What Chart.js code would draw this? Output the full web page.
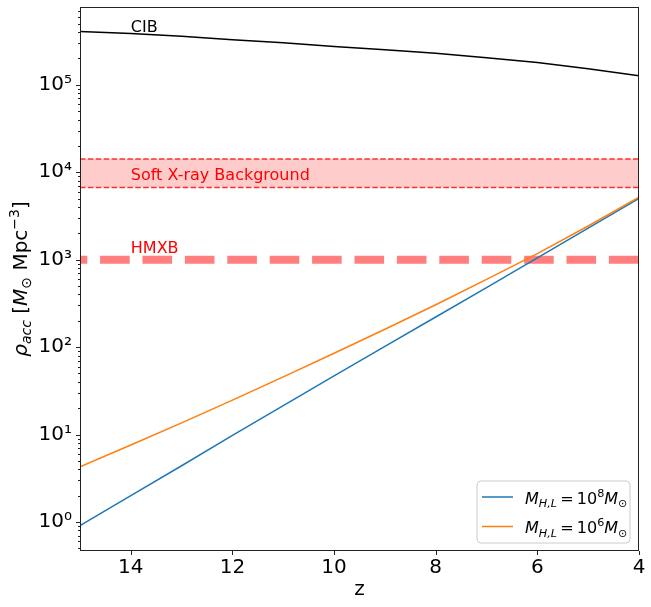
<!DOCTYPE html>
<html lang="en">
<head>
  <meta charset="UTF-8">
  <title>Accretion density vs redshift</title>
  <script src="https://cdn.jsdelivr.net/npm/chart.js@4.4.1/dist/chart.umd.min.js"></script>
  <style>
* {
  margin: 0;
  padding: 0;
  box-sizing: border-box;
}
body {
  background: #fff;
}
#chart {
  display: block;
}
  </style>
</head>
<body>
  <canvas id="chart" width="651" height="607"></canvas>
  <script>
    // data
    const redshift = [15, 14, 13, 12, 11, 10, 9, 8, 7, 6, 5, 4];
    const rhoCIB = [4.07e5, 3.85e5, 3.59e5, 3.27e5, 3.02e5, 2.75e5, 2.51e5, 2.29e5, 2.04e5, 1.80e5, 1.53e5, 1.27e5];
    const rhoM8 = [0.91, 2.0, 4.4, 9.8, 21.4, 46.8, 102, 221, 479, 1047, 2290, 5010];
    const rhoM6 = [4.27, 7.6, 13.6, 24.8, 45.7, 85, 160, 305, 596, 1175, 2430, 5180];
    const zEnds = [15, 4];
    const softXLow = 6700;
    const softXHigh = 14200;
    const hmxbLevel = 1000;

    const xTicks = [14, 12, 10, 8, 6, 4];
    const yMajorTicks = [0.1, 1, 10, 100, 1000, 10000, 100000];
    const yMinorFactors = [2, 3, 4, 5, 6, 7, 8, 9];
    const yMin = 0.466;
    const yMax = 7.76e5;

    const textLabels = [
      { text: 'CIB', z: 14, y: 4.0e5, color: '#000' },
      { text: 'Soft X-ray Background', z: 14, y: 8.2e3, color: '#ff0000' },
      { text: 'HMXB', z: 14, y: 1.2e3, color: '#ff0000' }
    ];

    const FONT = 'DejaVu Sans';
    const SUP = { '0': '\u2070', '1': '\u00b9', '2': '\u00b2', '3': '\u00b3', '4': '\u2074', '5': '\u2075', '-': '\u207b' };

    let pts = vals => redshift.map((z, i) => ({ x: z, y: vals[i] }));
    let flat = v => zEnds.map(z => ({ x: z, y: v }));

    let yTickValues = [];
    yMajorTicks.forEach(d => {
      [1].concat(yMinorFactors).forEach(m => {
        let v = m * d;
        if (v >= yMin && v <= yMax) yTickValues.push(v);
      });
    });
    let isMajor = v => yMajorTicks.some(d => Math.abs(v - d) / d < 1e-9);

    // mathtext-like drawing: segments can be italic, sub or sup
    function segFont(s, size) {
      let sz = (s.sub || s.sup) ? size * 0.7 : size;
      return (s.it ? 'italic ' : '') + sz + 'px "' + FONT + '"';
    }
    function richWidth(ctx, segs, size) {
      let w = 0;
      segs.forEach(s => { ctx.font = segFont(s, size); w += ctx.measureText(s.t).width; });
      return w;
    }
    function drawRich(ctx, segs, x, y, size, align) {
      let cx = align === 'center' ? x - richWidth(ctx, segs, size) / 2 : x;
      ctx.textBaseline = 'alphabetic';
      ctx.textAlign = 'left';
      segs.forEach(s => {
        ctx.font = segFont(s, size);
        let dy = s.sub ? size * 0.22 : (s.sup ? -size * 0.42 : 0);
        ctx.fillText(s.t, cx, y + dy);
        cx += ctx.measureText(s.t).width;
      });
    }

    const yTitle = [
      { t: '\u03c1', it: true }, { t: 'acc', it: true, sub: true },
      { t: ' [' }, { t: 'M', it: true }, { t: '\u2299', sub: true },
      { t: ' Mpc' }, { t: '\u22123', sup: true }, { t: ']' }
    ];
    const legendItems = [
      { dataset: 0, segs: [{ t: 'M', it: true }, { t: 'H,L', it: true, sub: true }, { t: '\u2009=\u200910' }, { t: '8', sup: true }, { t: 'M', it: true }, { t: '\u2299', sub: true }] },
      { dataset: 1, segs: [{ t: 'M', it: true }, { t: 'H,L', it: true, sub: true }, { t: '\u2009=\u200910' }, { t: '6', sup: true }, { t: 'M', it: true }, { t: '\u2299', sub: true }] }
    ];

    const decor = {
      id: 'decor',
      afterDraw(chart) {
        let ctx = chart.ctx;
        let a = chart.chartArea;
        let xs = chart.scales.x;
        let ys = chart.scales.y;
        ctx.save();

        // text labels
        ctx.textBaseline = 'alphabetic';
        ctx.textAlign = 'left';
        ctx.font = '16px "' + FONT + '"';
        textLabels.forEach(l => {
          ctx.fillStyle = l.color;
          ctx.fillText(l.text, xs.getPixelForValue(l.z), ys.getPixelForValue(l.y));
        });

        // frame and tick marks
        ctx.strokeStyle = '#222';
        ctx.lineWidth = 1;
        ctx.strokeRect(a.left + 0.5, a.top + 0.5, a.right - a.left - 1, a.bottom - a.top - 1);
        ctx.beginPath();
        xs.ticks.forEach(t => {
          let px = Math.round(xs.getPixelForValue(t.value)) + 0.5;
          ctx.moveTo(px, a.bottom);
          ctx.lineTo(px, a.bottom + 4);
        });
        ys.ticks.forEach(t => {
          let py = Math.round(ys.getPixelForValue(t.value)) + 0.5;
          let len = isMajor(t.value) ? 4 : 2;
          ctx.moveTo(a.left, py);
          ctx.lineTo(a.left - len, py);
        });
        ctx.stroke();

        // y axis title
        ctx.fillStyle = '#000';
        ctx.save();
        ctx.translate(27, (a.top + a.bottom) / 2);
        ctx.rotate(-Math.PI / 2);
        drawRich(ctx, yTitle, 0, 0, 20, 'center');
        ctx.restore();

        // legend
        let bx = 477, by = 481, bw = 153, bh = 62, r = 4;
        ctx.beginPath();
        ctx.moveTo(bx + r, by);
        ctx.arcTo(bx + bw, by, bx + bw, by + bh, r);
        ctx.arcTo(bx + bw, by + bh, bx, by + bh, r);
        ctx.arcTo(bx, by + bh, bx, by, r);
        ctx.arcTo(bx, by, bx + bw, by, r);
        ctx.closePath();
        ctx.fillStyle = 'rgba(255,255,255,0.8)';
        ctx.fill();
        ctx.strokeStyle = '#cccccc';
        ctx.lineWidth = 1;
        ctx.stroke();
        legendItems.forEach((item, i) => {
          let ds = chart.data.datasets[item.dataset];
          let ly = 497 + i * 29.5;
          ctx.beginPath();
          ctx.strokeStyle = ds.borderColor;
          ctx.lineWidth = ds.borderWidth;
          ctx.moveTo(482, ly);
          ctx.lineTo(513, ly);
          ctx.stroke();
          ctx.fillStyle = '#000';
          drawRich(ctx, item.segs, 525, ly + 6.5, 16, 'left');
        });
        ctx.restore();
      }
    };

    let noEdgePad = s => {
      s.paddingTop = 0;
      s.paddingBottom = 0;
      s.paddingLeft = 0;
      s.paddingRight = 0;
    };

    let ctx = document.getElementById('chart').getContext('2d');
    let chart = new Chart(ctx, {
      type: 'line',
      data: {
        datasets: [
          { label: 'M8', data: pts(rhoM8), borderColor: '#1f77b4', borderWidth: 1.5, pointRadius: 0, order: 2 },
          { label: 'M6', data: pts(rhoM6), borderColor: '#ff7f0e', borderWidth: 1.5, pointRadius: 0, order: 1 },
          { label: 'CIB', data: pts(rhoCIB), borderColor: '#000', borderWidth: 1.5, pointRadius: 0, order: 3 },
          { label: 'softHigh', data: flat(softXHigh), borderColor: 'rgba(255,0,0,0.8)', borderWidth: 1.5, borderDash: [5.5, 2.4], pointRadius: 0, fill: false, order: 4 },
          { label: 'softLow', data: flat(softXLow), borderColor: 'rgba(255,0,0,0.8)', borderWidth: 1.5, borderDash: [5.5, 2.4], pointRadius: 0, fill: '-1', backgroundColor: 'rgba(255,0,0,0.2)', order: 5 },
          { label: 'HMXB', data: flat(hmxbLevel), borderColor: 'rgba(255,0,0,0.5)', borderWidth: 8, borderDash: [29.6, 12.8], borderDashOffset: 22.3, pointRadius: 0, order: 6 }
        ]
      },
      options: {
        responsive: false,
        animation: false,
        devicePixelRatio: 1,
        layout: { padding: { top: 7, right: 12, left: 0, bottom: 0 } },
        plugins: { legend: { display: false }, tooltip: { enabled: false } },
        scales: {
          x: {
            type: 'linear',
            reverse: true,
            min: 4,
            max: 15,
            afterBuildTicks: s => { s.ticks = xTicks.map(v => ({ value: v })); },
            afterFit: s => { s.height = 56; noEdgePad(s); },
            grid: { display: false, drawTicks: false },
            border: { display: false },
            ticks: { font: { family: FONT, size: 20 }, color: '#000', padding: 5, maxRotation: 0, autoSkip: false },
            title: { display: true, text: 'z', font: { family: FONT, size: 20 }, color: '#000', padding: { top: 0, bottom: 5 } }
          },
          y: {
            type: 'logarithmic',
            min: yMin,
            max: yMax,
            afterBuildTicks: s => { s.ticks = yTickValues.map(v => ({ value: v })); },
            afterFit: s => { s.width = 80; noEdgePad(s); },
            grid: { display: false, drawTicks: false },
            border: { display: false },
            ticks: {
              font: { family: FONT, size: 20 },
              color: '#000',
              padding: 8,
              autoSkip: false,
              callback: v => isMajor(v) ? '10' + String(Math.round(Math.log10(v))).split('').map(c => SUP[c]).join('') : ''
            }
          }
        }
      },
      plugins: [decor]
    });
  </script>
</body>
</html>
